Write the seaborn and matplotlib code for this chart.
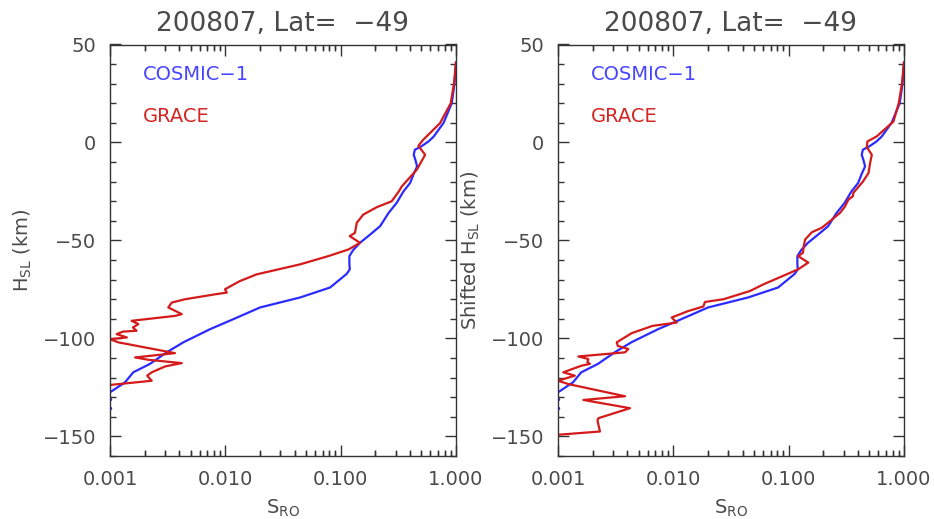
import numpy as np
import pandas as pd
import matplotlib
matplotlib.use("Agg")
import matplotlib.pyplot as plt
import matplotlib.ticker as mticker
import seaborn as sns

# ---------------- data ----------------
title_text = "200807, Lat=  \u221249"
legend_names = ["COSMIC\u22121", "GRACE"]
x_tick_values = [0.001, 0.01, 0.1, 1.0]
x_tick_labels = ["0.001", "0.010", "0.100", "1.000"]
y_tick_values = [-150, -100, -50, 0, 50]

# COSMIC-1 (same in both panels)
cosmic_h = [41, 30, 20, 10, 3, 0.5, -2, -3.7, -6.3, -9, -12.2, -16, -20.7, -25,
            -30.8, -36, -42.7, -47, -51.2, -55, -58, -62, -64.7, -67, -69.8,
            -74, -79.1, -84.2, -90.2, -95.3, -102, -107.1, -113, -117.3,
            -122.4, -127.5]
cosmic_s = [1.0, 0.97, 0.918, 0.78, 0.64, 0.577, 0.50, 0.44, 0.43, 0.445, 0.46,
            0.43, 0.40, 0.35, 0.306, 0.26, 0.22, 0.18, 0.147, 0.128, 0.119,
            0.119, 0.12, 0.113, 0.099, 0.081, 0.0445, 0.02, 0.0117, 0.00736,
            0.00432, 0.0031, 0.00222, 0.00159, 0.00135, 0.001]
cosmic_dot_h = [-131.0, -135.6]
cosmic_dot_s = [0.00101, 0.00101]

# GRACE, original heights (left panel)
grace_h = [41, 30, 20, 9.9, 1.4, -1.7, -6.3, -13.9, -22.4, -24.9, -30, -33,
           -36.8, -41, -46.1, -47.8, -51.2, -54.6, -58, -62.2, -67.3, -70.7,
           -74.9, -76.6, -77.5, -80, -81.7, -84.2, -87.6, -88.5, -91, -92.7,
           -94.4, -96.1, -96.5, -97.8, -99.5, -100.4, -102, -107.5, -109.7,
           -110.9, -112.6, -114.3, -117.3, -119, -121.6, -123.8]
grace_s = [1.0, 0.96, 0.9, 0.728, 0.52, 0.472, 0.54, 0.457, 0.339, 0.32, 0.277,
           0.206, 0.157, 0.138, 0.133, 0.12, 0.147, 0.117, 0.078, 0.0445,
           0.0187, 0.0134, 0.00993, 0.0103, 0.00814, 0.00447, 0.00343, 0.0032,
           0.00419, 0.00366, 0.00154, 0.00176, 0.00158, 0.0017, 0.0013,
           0.00114, 0.0014, 0.001, 0.00118, 0.00366, 0.00165, 0.00215,
           0.00419, 0.003, 0.0023, 0.0021, 0.0023, 0.00098]

# GRACE, shifted heights (right panel)
grace_shift_h = [41, 30, 20, 10.7, 3.1, 0.5, -2.3, -6.3, -10, -15.6, -20,
                 -25.7, -27.5, -29.1, -32.6, -35.9, -40, -43.5, -45.8, -49.5,
                 -53, -56.3, -58, -61.3, -64.7, -68, -72.4, -75.8, -80, -81.4,
                 -83.7, -86, -89.3, -91.9, -93.6, -97.3, -102, -103.8, -105.4,
                 -107.1, -109.2, -110.5, -112.2, -113, -113.9, -117.3, -119,
                 -121.6, -123.3, -129.5, -131.4, -135.6, -140.7, -141.9,
                 -147.5, -149.2]
grace_shift_s = [1.0, 0.96, 0.9, 0.81, 0.58, 0.482, 0.476, 0.526, 0.51, 0.492,
                 0.44, 0.364, 0.36, 0.33, 0.308, 0.279, 0.23, 0.194, 0.159,
                 0.139, 0.135, 0.133, 0.121, 0.148, 0.121, 0.09, 0.0604,
                 0.0462, 0.0272, 0.0188, 0.0182, 0.0135, 0.00968, 0.0107,
                 0.0066, 0.00436, 0.00323, 0.0033, 0.00407, 0.00381, 0.0015,
                 0.00183, 0.0018, 0.00189, 0.0016, 0.00111, 0.0014, 0.001,
                 0.00123, 0.00381, 0.00166, 0.00421, 0.00224, 0.0022, 0.00231,
                 0.00098]

# ---------------- style ----------------
sns.set_style("white")
plt.rcParams["font.family"] = ["DejaVu Sans"]
TXT = "#4a4a4a"
AX = "#333333"
BLUE = "#2b2bff"
RED = "#d41a1a"

W, H = 934, 519
fig = plt.figure(figsize=(W / 100, H / 100), dpi=100)
axL = fig.add_axes([110 / W, 1 - 456 / H, 346 / W, 411.5 / H])
axR = fig.add_axes([558 / W, 1 - 456 / H, 346 / W, 411.5 / H])

panels = [
    (axL, grace_h, grace_s, "H$_{\\mathrm{SL}}$ (km)"),
    (axR, grace_shift_h, grace_shift_s, "Shifted H$_{\\mathrm{SL}}$ (km)"),
]

minor_x = [m * d for d in (0.001, 0.01, 0.1) for m in range(2, 10)]
minor_y = list(range(-160, 51, 10))
minor_len = 5.5 / 411.5   # small x tick length as a fraction of axes height

for ax, gh, gs, ylab in panels:
    dc = pd.DataFrame({"S": cosmic_s, "H": cosmic_h})
    dg = pd.DataFrame({"S": gs, "H": gh})
    sns.scatterplot(x=cosmic_dot_s, y=cosmic_dot_h, color=BLUE, s=6,
                    linewidth=0, ax=ax)
    sns.lineplot(data=dc, x="S", y="H", sort=False, estimator=None,
                 color=BLUE, lw=1.6, ax=ax)
    sns.lineplot(data=dg, x="S", y="H", sort=False, estimator=None,
                 color=RED, lw=1.6, ax=ax)

    ax.set_xscale("log")
    ax.set_xlim(0.001, 1.0)
    ax.set_ylim(-160, 50)

    ax.set_title(title_text, fontsize=19, color=TXT, pad=10)
    ax.set_xlabel("S$_{\\mathrm{RO}}$", fontsize=14, color=TXT, labelpad=6)
    ax.set_ylabel(ylab, fontsize=14, color=TXT, labelpad=6)
    ax.text(0.095, 0.926, legend_names[0], transform=ax.transAxes,
            color="#4545ff", fontsize=14, va="center", ha="left")
    ax.text(0.095, 0.826, legend_names[1], transform=ax.transAxes,
            color="#d42424", fontsize=14, va="center", ha="left")

    for sp in ax.spines.values():
        sp.set_color(AX)
        sp.set_linewidth(1)

    ax.xaxis.set_major_locator(mticker.FixedLocator(x_tick_values))
    ax.xaxis.set_major_formatter(mticker.FixedFormatter(x_tick_labels))
    ax.xaxis.set_minor_locator(mticker.FixedLocator(minor_x))
    ax.xaxis.set_minor_formatter(mticker.NullFormatter())
    ax.yaxis.set_major_locator(mticker.FixedLocator(y_tick_values))
    ax.yaxis.set_minor_locator(mticker.FixedLocator(minor_y))
    ax.yaxis.set_minor_formatter(mticker.NullFormatter())

    ax.tick_params(which="both", direction="in", top=True, right=True,
                   bottom=True, left=True,
                   colors=AX, labelcolor=TXT, labelsize=14, width=1)
    ax.tick_params(which="major", length=8, pad=10)
    ax.tick_params(which="minor", length=4)

    # small decade sub-ticks on bottom and top edges (x in data, y in axes units)
    xt = ax.get_xaxis_transform()
    ax.vlines(minor_x, 0, minor_len, transform=xt, colors=AX, linewidth=1,
              clip_on=False, zorder=5)
    ax.vlines(minor_x, 1 - minor_len, 1, transform=xt, colors=AX,
              linewidth=1, clip_on=False, zorder=5)
    ax.set_xlim(0.001, 1.0)
    ax.set_ylim(-160, 50)

fig.savefig("out.png", dpi=100, facecolor="white")
